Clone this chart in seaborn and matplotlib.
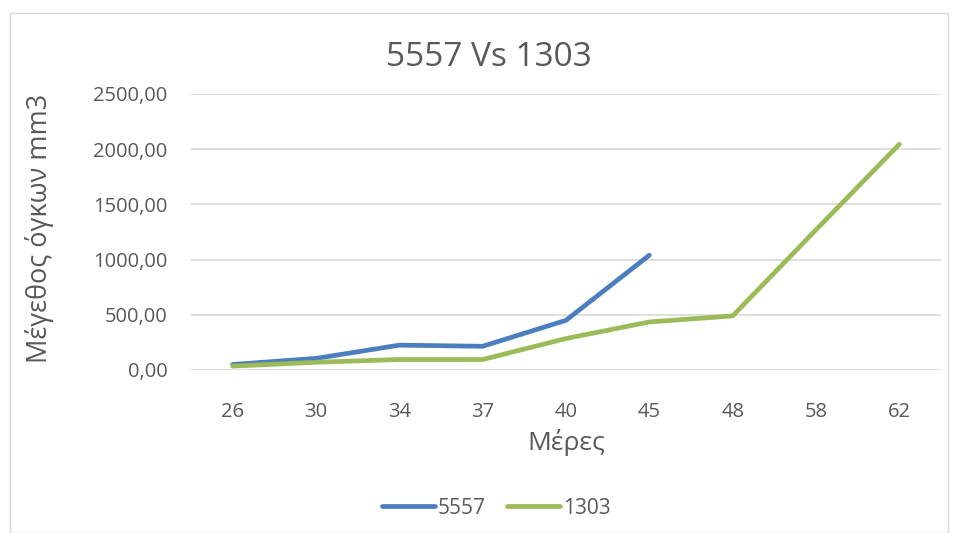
import matplotlib
matplotlib.use("Agg")
import matplotlib.pyplot as plt
import seaborn as sns
import pandas as pd
from matplotlib.patches import Rectangle
from matplotlib.ticker import FuncFormatter
from matplotlib.lines import Line2D

days = ["26", "30", "34", "37", "40", "45", "48", "58", "62"]
s5557 = [50, 105, 225, 215, 450, 1040]
s1303 = [35, 70, 95, 95, 285, 435, 490, 1270, 2045]
series_names = ["5557", "1303"]
colors = ["#4A7EBF", "#9BBB59"]

rows = []
for d, v in zip(days, s5557):
    rows.append({"day": d, "value": v, "series": "5557"})
for d, v in zip(days, s1303):
    rows.append({"day": d, "value": v, "series": "1303"})
df = pd.DataFrame(rows)

sns.set_theme(style="white")
plt.rcParams['font.family'] = ['Open Sans', 'DejaVu Sans']

W, H = 954, 533
fig = plt.figure(figsize=(W / 100, H / 100), dpi=100)
ax = fig.add_axes([191 / W, 1 - 370 / H, (941 - 191) / W, (370 - 94) / H])

# chart border
fig.patches.append(Rectangle((10 / W, 0), (948 - 10) / W, 1 - 13 / H, transform=fig.transFigure,
                             fill=False, edgecolor="#D9D9D9", linewidth=1.0))

ax.set_xticks(range(len(days)))
sns.lineplot(data=df, x="day", y="value", hue="series", hue_order=series_names,
             palette=colors, linewidth=3.4, sort=False, ax=ax, legend=False)
ax.set_xlim(-0.5, len(days) - 0.5)
ax.set_ylim(0, 2500)
ax.set_yticks([0, 500, 1000, 1500, 2000, 2500])
ax.yaxis.set_major_formatter(FuncFormatter(lambda v, p: f"{v:.2f}".replace(".", ",")))
ax.grid(axis="y", color="#D9D9D9", linewidth=1.2)
ax.set_axisbelow(True)
for s in ax.spines.values():
    s.set_visible(False)
ax.tick_params(axis="both", length=0, labelsize=14.5, labelcolor="#595959")
ax.tick_params(axis="y", pad=17)
ax.tick_params(axis="x", pad=23)
ax.set_xlabel("")
ax.set_ylabel("")

fig.text(40 / W, 1 - 228 / H, "Μέγεθος όγκων mm3", rotation=90, ha="center", va="center",
         fontsize=19.5, color="#595959")
fig.text(566 / W, 1 - 443 / H, "Μέρες", ha="center", va="center", fontsize=19, color="#595959")
fig.text(489 / W, 1 - 57 / H, "5557 Vs 1303", ha="center", va="center", fontsize=24, color="#595959")

handles = [Line2D([0], [0], color=c, linewidth=3.4) for c in colors]
fig.legend(handles, series_names, loc="center", bbox_to_anchor=(496 / W, 1 - 508 / H), ncol=2,
           frameon=False, fontsize=15, labelcolor="#595959", handlelength=2.55,
           handletextpad=0.15, columnspacing=1.0)

fig.savefig("out.png", dpi=100, facecolor="white")
